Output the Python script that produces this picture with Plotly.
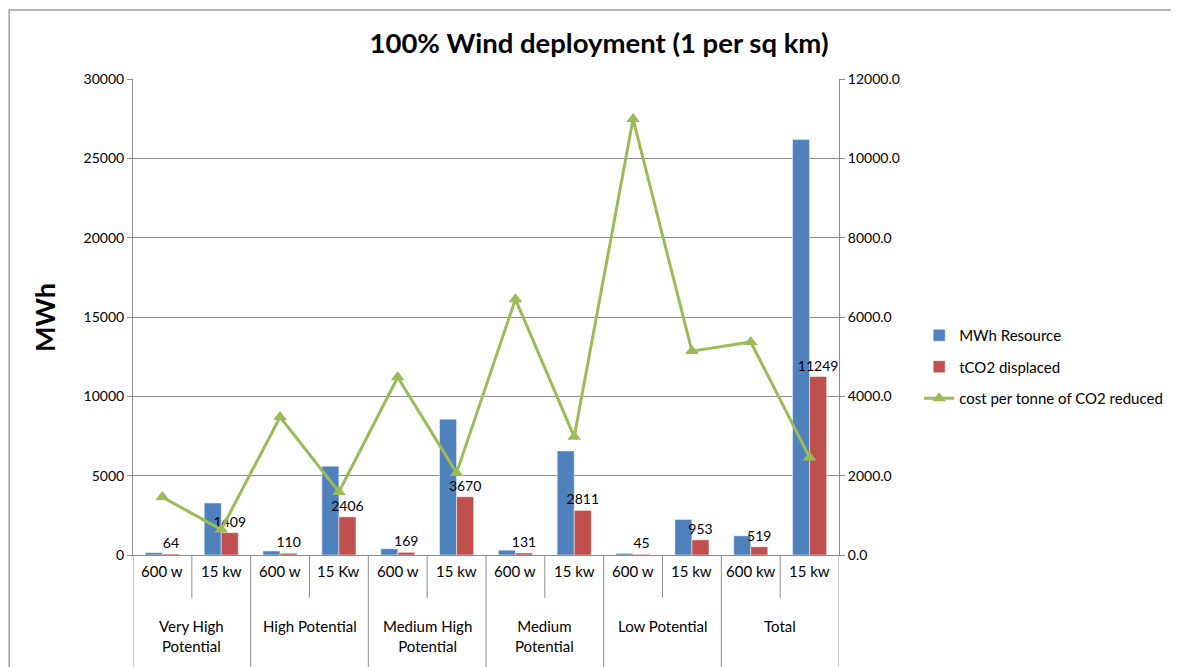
import plotly.graph_objects as go

# ── Data ──────────────────────────────────────────────────────────────────────
groups = ["Very High<br>Potential", "High Potential", "Medium High<br>Potential",
          "Medium<br>Potential", "Low Potential", "Total"]
turbines = ["600 w", "15 kw", "600 w", "15 Kw", "600 w", "15 kw",
            "600 w", "15 kw", "600 w", "15 kw", "600 kw", "15 kw"]

mwh_resource = [150, 3280, 255, 5600, 395, 8560, 305, 6560, 105, 2240, 1210, 26180]
tco2_displaced = [64, 1409, 110, 2406, 169, 3670, 131, 2811, 45, 953, 519, 11249]
cost_per_tonne = [1460, 640, 3480, 1590, 4480, 2070, 6450, 2980, 10990, 5140, 5370, 2460]

BLUE = "#4F81BD"
RED = "#C0504D"
GREEN = "#9BBB59"
GRID = "#8C8C8C"
FONT = "Lato, Calibri, sans-serif"

pos = list(range(len(turbines)))
per_group = len(turbines) // len(groups)

fig = go.Figure()
fig.add_bar(x=pos, y=mwh_resource, name="MWh Resource", marker_color=BLUE,
            marker_line=dict(color="white", width=0.5), legendgroup="a")
fig.add_bar(x=pos, y=tco2_displaced, name="tCO2 displaced", marker_color=RED,
            marker_line=dict(color="white", width=0.5), legendgroup="b",
            text=[str(v) for v in tco2_displaced], textposition="outside",
            constraintext="none",
            textfont=dict(size=14, color="black"), cliponaxis=False)
fig.add_scatter(x=pos, y=cost_per_tonne, name="cost per tonne of CO2 reduced",
                yaxis="y2", mode="lines+markers", legendgroup="c",
                line=dict(color=GREEN, width=3),
                marker=dict(symbol="triangle-up", size=12, color=GREEN))

# the page body adds 8 px, so the figure is 8 px smaller than the window
fig.update_layout(
    width=1171, height=659,
    font=dict(family=FONT, size=14, color="black"),
    paper_bgcolor="white", plot_bgcolor="white",
    margin=dict(l=125, r=339, t=71, b=112),
    barmode="group", bargap=0.42, bargroupgap=0,
    title=dict(text="<b>100% Wind deployment (1 per sq km)</b>",
               font=dict(size=27.5, family=FONT), x=0.5047, xanchor="center",
               y=0.947, yanchor="middle"),
    legend=dict(x=1.112, y=0.395, xanchor="left", yanchor="middle",
                font=dict(size=15), tracegroupgap=9, bgcolor="rgba(0,0,0,0)"),
    xaxis=dict(range=[-0.5, len(turbines) - 0.5], showticklabels=False,
               showline=True, linecolor=GRID, showgrid=False, zeroline=False,
               automargin=False, fixedrange=True),
    yaxis=dict(range=[0, 30000], dtick=5000, tickformat="d", showgrid=True,
               gridcolor=GRID, showline=True, linecolor=GRID, ticks="outside",
               ticklen=5, tickcolor=GRID, zeroline=False, automargin=False,
               tickfont=dict(size=14)),
    yaxis2=dict(range=[0, 12000], dtick=2000, tickformat=".1f",
                overlaying="y", side="right", showgrid=False, automargin=False,
                showline=True, linecolor=GRID, ticks="outside", ticklen=5,
                tickcolor=GRID, zeroline=False, tickfont=dict(size=14)),
)

# y-axis title
fig.add_annotation(x=-0.1245, y=0.498, xref="paper", yref="paper",
                   xanchor="center", yanchor="middle",
                   text="<b>MWh</b>", textangle=-90, showarrow=False,
                   font=dict(size=27))

# sub-category labels and short separators
for i, lab in enumerate(turbines):
    fig.add_annotation(x=i, y=-0.057, xref="x", yref="paper", text=lab,
                       showarrow=False, font=dict(size=15))
for i in range(len(turbines) + 1):
    edge = i % per_group == 0
    fig.add_shape(type="line", xref="x", yref="paper",
                  x0=i - 0.5, x1=i - 0.5, y0=0, y1=-0.3 if edge else -0.09,
                  line=dict(color=GRID, width=1))

# group labels
for g, lab in enumerate(groups):
    fig.add_annotation(x=g * per_group + (per_group - 1) / 2, y=-0.126,
                       xref="x", yref="paper", text=lab, showarrow=False,
                       font=dict(size=15), yanchor="top")

# outer chart border, Excel style
fig.add_shape(type="rect", xref="paper", yref="paper",
              x0=-0.1754, x1=1.52, y0=-0.3, y1=1.145,
              line=dict(color="#A0A0A0", width=1.5))

fig.write_html("out.html")
